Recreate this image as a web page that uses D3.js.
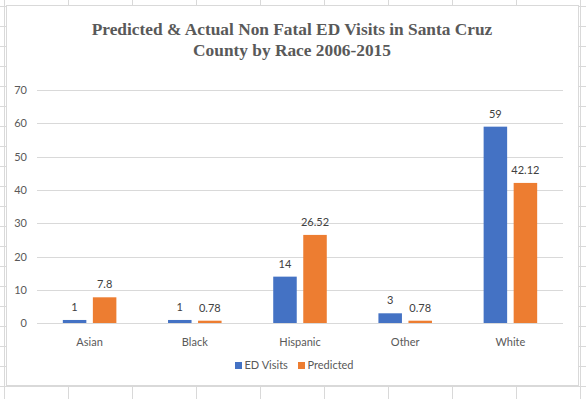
<!DOCTYPE html>
<html>
<head>
<meta charset="utf-8">
<script src="https://cdn.jsdelivr.net/npm/d3@7"></script>
<style>
  body { margin: 0; background: #fff; }
  svg { display: block; }
</style>
</head>
<body>
<svg id="chart"></svg>
<script>
const categories = ['Asian', 'Black', 'Hispanic', 'Other', 'White'];
const seriesNames = ['ED Visits', 'Predicted'];
const edVisits = [1, 1, 14, 3, 59];
const predicted = [7.8, 0.78, 26.52, 0.78, 42.12];
const yTicks = [0, 10, 20, 30, 40, 50, 60, 70];
const titleLines = ['Predicted & Actual Non Fatal ED Visits in Santa Cruz', 'County by Race 2006-2015'];

const colors = ['#4472C4', '#ED7D31'];
const W = 586, H = 399;
const plot = { left: 37, right: 563, top: 90, bottom: 323.3 };
const labelFont = 'Lato, "Liberation Sans", sans-serif';

const rows = categories.map((c, i) => ({
  category: c,
  values: [
    { key: seriesNames[0], value: edVisits[i] },
    { key: seriesNames[1], value: predicted[i] }
  ]
}));

const svg = d3.select('#chart').attr('width', W).attr('height', H);

// spreadsheet cells behind the chart
const sheet = svg.append('g').attr('stroke', '#d9d9d9').attr('stroke-width', 1);
sheet.selectAll('line.col')
  .data(d3.range(4, W, 64))
  .enter().append('line')
  .attr('x1', d => d + 0.5).attr('x2', d => d + 0.5)
  .attr('y1', 0).attr('y2', H);
sheet.selectAll('line.row')
  .data(d3.range(6, H, 20))
  .enter().append('line')
  .attr('x1', 0).attr('x2', W)
  .attr('y1', d => d + 0.5).attr('y2', d => d + 0.5);

// chart area
svg.append('rect')
  .attr('x', 6.5).attr('y', 5.5)
  .attr('width', 572).attr('height', 380)
  .attr('fill', '#fff')
  .attr('stroke', '#d9d9d9');

// title
svg.append('text')
  .attr('text-anchor', 'middle')
  .style('font-family', '"Liberation Serif", "Times New Roman", serif')
  .style('font-weight', 'bold')
  .style('font-size', '17.33px')
  .style('fill', '#595959')
  .selectAll('tspan')
  .data(titleLines)
  .enter().append('tspan')
  .attr('x', 292)
  .attr('y', (d, i) => 34.5 + i * 21.5)
  .text(d => d);

const x0 = d3.scaleBand()
  .domain(categories)
  .range([plot.left, plot.right])
  .paddingInner(0.491)
  .paddingOuter(0.2455);

const x1 = d3.scaleBand()
  .domain(seriesNames)
  .range([0, x0.bandwidth()])
  .paddingInner(0.217);

const y = d3.scaleLinear()
  .domain([0, 70])
  .range([plot.bottom, plot.top]);

// grid lines
svg.append('g')
  .selectAll('line')
  .data(yTicks)
  .enter().append('line')
  .attr('x1', plot.left).attr('x2', plot.right)
  .attr('y1', d => Math.round(y(d)) + 0.5)
  .attr('y2', d => Math.round(y(d)) + 0.5)
  .style('stroke', '#d9d9d9')
  .style('stroke-width', 1);

// y axis labels
const yAxis = d3.axisLeft(y).tickValues(yTicks).tickSize(0).tickPadding(0);
svg.append('g')
  .attr('transform', `translate(${plot.left - 10},0)`)
  .call(yAxis)
  .call(g => g.select('.domain').remove())
  .selectAll('text')
  .style('font-family', labelFont)
  .style('font-size', '11px')
  .style('fill', '#595959');

// x axis labels
const xAxis = d3.axisBottom(x0).tickSize(0).tickPadding(0);
svg.append('g')
  .attr('transform', `translate(0,${plot.bottom})`)
  .call(xAxis)
  .call(g => g.select('.domain').remove())
  .selectAll('text')
  .attr('dy', null)
  .attr('y', 23)
  .style('font-family', labelFont)
  .style('font-size', '11px')
  .style('fill', '#595959');

// bars
const groups = svg.append('g')
  .selectAll('g')
  .data(rows)
  .enter().append('g')
  .attr('transform', d => `translate(${x0(d.category)},0)`);

groups.selectAll('rect')
  .data(d => d.values)
  .enter().append('rect')
  .attr('x', d => x1(d.key))
  .attr('y', d => y(d.value))
  .attr('width', x1.bandwidth())
  .attr('height', d => y(0) - y(d.value))
  .style('fill', (d, i) => colors[i]);

groups.selectAll('text')
  .data(d => d.values)
  .enter().append('text')
  .attr('x', d => x1(d.key) + x1.bandwidth() / 2)
  .attr('y', d => y(d.value) - 9)
  .attr('text-anchor', 'middle')
  .style('font-family', labelFont)
  .style('font-size', '11px')
  .style('fill', '#404040')
  .text(d => d.value);

// horizontal axis line
svg.append('line')
  .attr('x1', plot.left).attr('x2', plot.right)
  .attr('y1', Math.round(y(0)) + 0.5).attr('y2', Math.round(y(0)) + 0.5)
  .style('stroke', '#d9d9d9');

// legend
const legendX = [235, 298];
const legend = svg.append('g')
  .selectAll('g')
  .data(seriesNames)
  .enter().append('g')
  .attr('transform', (d, i) => `translate(${legendX[i]},362)`);
legend.append('rect')
  .attr('width', 7).attr('height', 7)
  .style('fill', (d, i) => colors[i]);
legend.append('text')
  .attr('x', 9.5).attr('y', 7)
  .style('font-family', labelFont)
  .style('font-size', '11px')
  .style('fill', '#595959')
  .text(d => d);
</script>
</body>
</html>
